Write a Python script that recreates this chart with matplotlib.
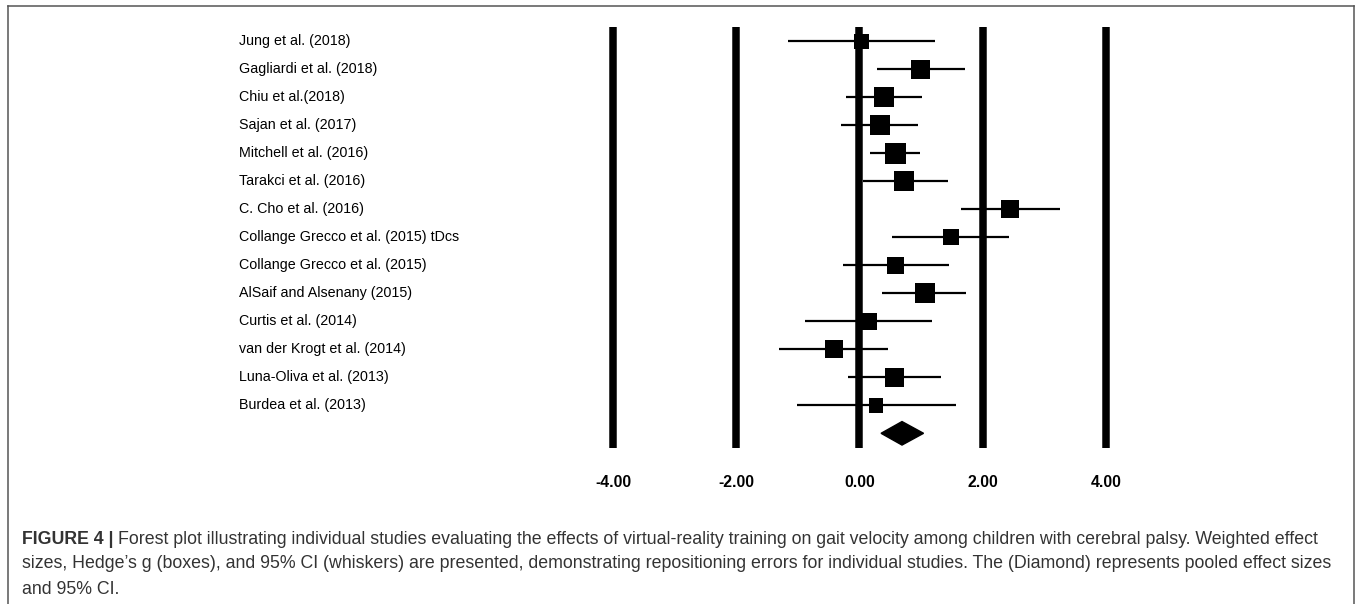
import matplotlib
matplotlib.use("Agg")
import matplotlib.pyplot as plt
from matplotlib.lines import Line2D
from matplotlib.transforms import blended_transform_factory
import numpy as np

plt.rcParams['font.family'] = ['Liberation Sans', 'DejaVu Sans']

## data (Hedge's g, 95% CI, relative box weight)
studies = ["Jung et al. (2018)", "Gagliardi et al. (2018)", "Chiu et al.(2018)",
           "Sajan et al. (2017)", "Mitchell et al. (2016)", "Tarakci et al. (2016)",
           "C. Cho et al. (2016)", "Collange Grecco et al. (2015) tDcs",
           "Collange Grecco et al. (2015)", "AlSaif and Alsenany (2015)",
           "Curtis et al. (2014)", "van der Krogt et al. (2014)",
           "Luna-Oliva et al. (2013)", "Burdea et al. (2013)"]
effect = [0.03, 0.99, 0.40, 0.33, 0.58, 0.73, 2.45, 1.48, 0.59, 1.06, 0.14, -0.41, 0.57, 0.27]
ci_low = [-1.16, 0.28, -0.22, -0.30, 0.17, 0.05, 1.65, 0.52, -0.26, 0.37, -0.88, -1.30, -0.19, -1.01]
ci_high = [1.23, 1.71, 1.01, 0.95, 0.98, 1.44, 3.26, 2.42, 1.45, 1.73, 1.18, 0.47, 1.32, 1.56]
weight = [14, 18, 19, 19, 20, 19, 17, 15, 16, 19, 16, 17, 18, 14]

pooled = 0.69
pooled_low = 0.35
pooled_high = 1.04

ticks = [-4, -2, 0, 2, 4]
tick_labels = ["-4.00", "-2.00", "0.00", "2.00", "4.00"]

caption = ["Forest plot illustrating individual studies evaluating the effects of virtual-reality "
           "training on gait velocity among children with cerebral palsy. Weighted effect",
           "sizes, Hedge\u2019s g (boxes), and 95% CI (whiskers) are presented, demonstrating "
           "repositioning errors for individual studies. The (Diamond) represents pooled effect sizes",
           "and 95% CI."]

W, H = 1357, 604
fig = plt.figure(figsize=(W / 100, H / 100), dpi=100)

# axes placed so that 1 unit ~ 61.6 px and zero sits at x ~ 859 px
x0, unit = 859.5, 61.6
row0, step = 41.3, 28.0
xl, xr = -4.5, 4.5
yt, yb = -0.6, 14.6
ax = fig.add_axes([(x0 + xl * unit) / W, 1 - (row0 + yb * step) / H,
                   (xr - xl) * unit / W, (yb - yt) * step / H])
ax.set_xlim(xl, xr)
ax.set_ylim(yb, yt)
for s in ax.spines.values():
    s.set_visible(False)
ax.set_yticks([])
ax.set_xticks(ticks)
ax.set_xticklabels(tick_labels, fontsize=11.3, fontweight='bold')
ax.tick_params(axis='x', length=0, pad=18)

rows = np.arange(len(studies))
ax.vlines(ticks, -0.51, 14.53, color='black', lw=5.4, zorder=1)
ax.hlines(rows, ci_low, ci_high, color='black', lw=1.6, zorder=2)
ax.scatter(effect, rows, marker='s', s=(np.array(weight) * 1.05 * 0.72) ** 2,
           color='black', linewidths=0, zorder=3)

# pooled diamond
d = 0.42
ax.fill([pooled_low, pooled, pooled_high, pooled], [14, 14 - d, 14, 14 + d],
        color='black', zorder=3)

# study names
name_tr = blended_transform_factory(fig.transFigure, ax.transData)
for i, name in enumerate(studies):
    ax.text(239 / W, i, name, transform=name_tr,
            ha='left', va='center', fontsize=10.3, color='black')

# frame (open at the bottom)
ec = '#555555'
fig.add_artist(Line2D([8 / W, 8 / W], [0, 1 - 6 / H], color=ec, lw=1.1))
fig.add_artist(Line2D([8 / W, 1354 / W], [1 - 6 / H, 1 - 6 / H], color=ec, lw=1.1))
fig.add_artist(Line2D([1354 / W, 1354 / W], [0, 1 - 6 / H], color=ec, lw=1.1))

# caption
cap_y = [539, 564, 589]
fs = 12.75
tc = '#333333'
head = fig.text(22 / W, 1 - cap_y[0] / H, "FIGURE 4 | ", fontsize=fs, fontweight='bold',
                color=tc, va='center')
r = fig.canvas.get_renderer()
bb = head.get_window_extent(renderer=r)
fig.text(bb.x1 / W, 1 - cap_y[0] / H, caption[0], fontsize=fs, color=tc, va='center')
fig.text(22 / W, 1 - cap_y[1] / H, caption[1], fontsize=fs, color=tc, va='center')
fig.text(22 / W, 1 - cap_y[2] / H, caption[2], fontsize=fs, color=tc, va='center')

fig.savefig("out.png", dpi=100)
